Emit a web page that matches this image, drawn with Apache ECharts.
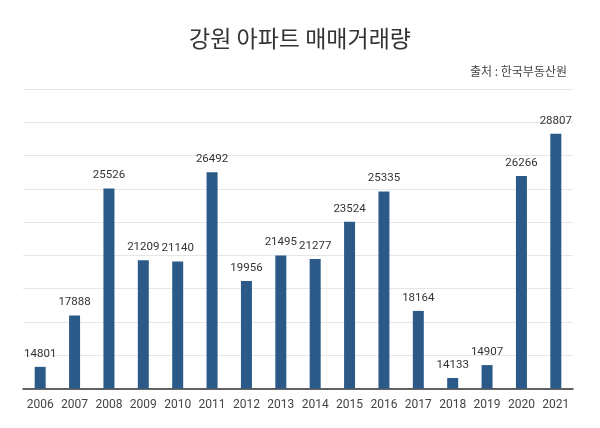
<!DOCTYPE html>
<html>
<head>
<meta charset="utf-8">
<script src="https://cdn.jsdelivr.net/npm/echarts@6/dist/echarts.min.js"></script>
<style>
html,body{margin:0;padding:0;background:#fff;}
#chart{width:600px;height:428px;}
</style>
</head>
<body>
<div id="chart"></div>
<script>
const years = ['2006','2007','2008','2009','2010','2011','2012','2013','2014','2015','2016','2017','2018','2019','2020','2021'];
const volumes = [14801,17888,25526,21209,21140,26492,19956,21495,21277,23524,25335,18164,14133,14907,26266,28807];
const titleText = '강원 아파트 매매거래량';
const sourceText = '출처 : 한국부동산원';

const chart = echarts.init(document.getElementById('chart'));
chart.setOption({
  backgroundColor: '#fff',
  animation: false,
  title: [
    {text: titleText, left: 'center', top: 22,
     textStyle: {fontFamily: 'Noto Sans CJK KR', fontSize: 23, fontWeight: 'normal', color: '#333'}},
    {text: sourceText, right: 28, top: 60,
     textStyle: {fontFamily: 'Noto Sans CJK KR', fontSize: 12, fontWeight: 'normal', color: '#444'}}
  ],
  grid: {left: 23, right: 27, top: 89, bottom: 39.5, containLabel: false},
  xAxis: {
    type: 'category', data: years,
    axisLine: {lineStyle: {color: '#333', width: 1.5}},
    axisTick: {show: false},
    axisLabel: {interval: 0, color: '#444', fontSize: 12, fontFamily: 'Roboto', margin: 10}
  },
  yAxis: [
    {type: 'value', min: 13500, max: 31500, show: true,
     axisLine: {show: false}, axisTick: {show: false}, axisLabel: {show: false},
     splitLine: {show: false}},
    {type: 'value', min: 0, max: 9, interval: 1,
     axisLine: {show: false}, axisTick: {show: false}, axisLabel: {show: false},
     splitLine: {show: true, lineStyle: {color: '#e6e6e6', width: 1}}}
  ],
  series: [{
    type: 'bar', data: volumes, yAxisIndex: 0, barWidth: 11,
    itemStyle: {color: '#2b5a88'},
    label: {show: true, position: 'top', distance: 7, color: '#333', fontSize: 11.5, fontFamily: 'Roboto'}
  }]
});
</script>
</body>
</html>
